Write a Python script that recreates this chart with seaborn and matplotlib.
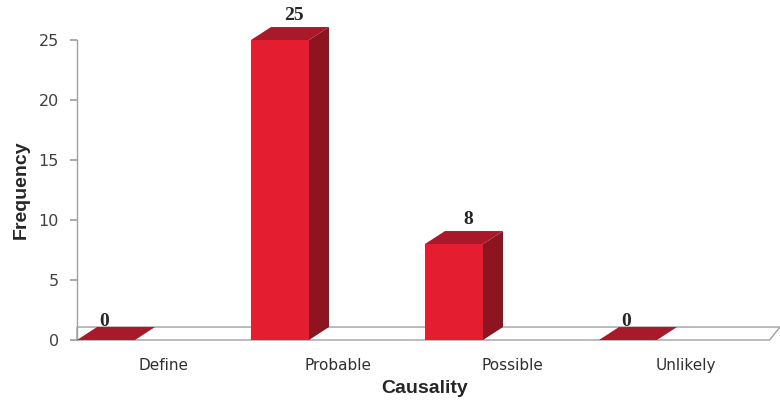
import pandas as pd
import seaborn as sns
import matplotlib.pyplot as plt
from matplotlib.patches import Polygon

# data
categories = ["Define", "Probable", "Possible", "Unlikely"]
frequency = [0, 25, 8, 0]
y_ticks = [0, 5, 10, 15, 20, 25]

# colours for the fake 3d look
front_color = "#E41E30"
side_color = "#8E1420"
top_color = "#A8192A"
floor_edge = "#A0A0A0"

sns.set_theme(style="white")
plt.rcParams["font.family"] = ["DejaVu Sans"]

fig = plt.figure(figsize=(7.8, 4.0), dpi=100)
ax = fig.add_axes([77 / 780, 60 / 400, 696 / 780, 300 / 400])

df = pd.DataFrame({"Causality": categories, "Frequency": frequency})
sns.barplot(data=df, x="Causality", y="Frequency", color=front_color,
            width=1 / 3, saturation=1, linewidth=0, ax=ax, zorder=3)

ax.set_xlim(-0.5, 3.5)
ax.set_ylim(0, 25)

# depth of the 3d offset in data units
dx, dy = 0.115, 1.08

# floor
floor = Polygon([(-0.5, 0), (3.48, 0), (3.54, dy), (-0.5, dy)],
                closed=True, facecolor="white", edgecolor=floor_edge,
                lw=1, zorder=1, clip_on=False)
ax.add_patch(floor)

# move bars to the left part of each slot and add side/top faces
for p, v in zip(ax.patches[:len(frequency)], frequency):
    p.set_x(p.get_x() - 1 / 3)
    p.set_edgecolor("none")
    x0 = p.get_x()
    x1 = x0 + p.get_width()
    h = p.get_height()
    side = Polygon([(x1, 0), (x1 + dx, dy), (x1 + dx, h + dy), (x1, h)],
                   closed=True, facecolor=side_color, edgecolor="none",
                   zorder=3, clip_on=False)
    top = Polygon([(x0, h), (x1, h), (x1 + dx, h + dy), (x0 + dx, h + dy)],
                  closed=True, facecolor=top_color, edgecolor="none",
                  zorder=4, clip_on=False)
    ax.add_patch(side)
    ax.add_patch(top)

    cx = (x0 + x1) / 2
    if v > 0:
        ax.annotate(str(v), xy=(cx + 0.08, h + dy), xytext=(0, 2),
                    textcoords="offset points", ha="center", va="bottom",
                    fontsize=14, fontweight="bold", family=["Liberation Serif"],
                    annotation_clip=False)
    else:
        ax.annotate(str(v), xy=(cx - 0.01, dy), xytext=(0, -2),
                    textcoords="offset points", ha="center", va="bottom",
                    fontsize=14, fontweight="bold", family=["Liberation Serif"],
                    annotation_clip=False, zorder=5)

# axes styling
for s in ["top", "right", "bottom"]:
    ax.spines[s].set_visible(False)
ax.spines["left"].set_color(floor_edge)
ax.spines["left"].set_linewidth(1)

ax.set_yticks(y_ticks)
ax.tick_params(axis="y", left=True, length=5, color=floor_edge,
               labelsize=11.5, labelcolor="#404040", pad=8)
ax.tick_params(axis="x", bottom=False, labelsize=11, labelcolor="#303030", pad=7)

ax.set_xlabel("Causality", fontsize=14, fontweight="bold",
              family=["Liberation Sans"], labelpad=5)
ax.set_ylabel("Frequency", fontsize=14, fontweight="bold",
              family=["Liberation Sans"], labelpad=6)

fig.savefig("out.png", dpi=100)
plt.close(fig)
